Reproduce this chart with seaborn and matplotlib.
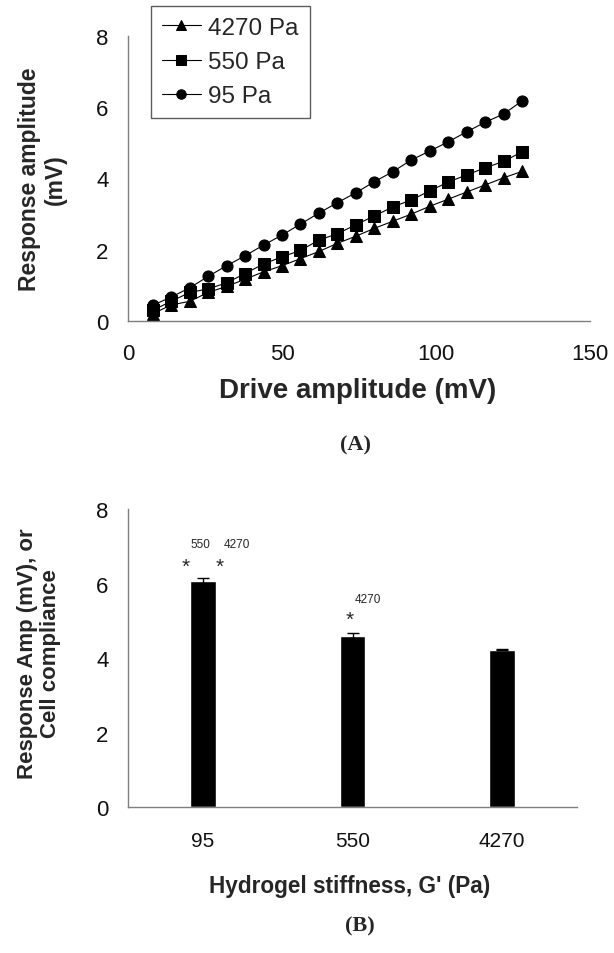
import numpy as np
import pandas as pd
import matplotlib
matplotlib.use("Agg")
import matplotlib.pyplot as plt
import seaborn as sns

# ---------------- data ----------------
drive_mv = [8, 14, 20, 26, 32, 38, 44, 50, 56, 62, 68, 74, 80, 86, 92, 98, 104, 110, 116, 122, 128]
resp_95 = [0.44, 0.67, 0.93, 1.25, 1.55, 1.83, 2.13, 2.41, 2.72, 3.03, 3.32, 3.60, 3.91, 4.19, 4.52,
           4.77, 5.03, 5.31, 5.58, 5.81, 6.18]
resp_550 = [0.30, 0.55, 0.80, 0.90, 1.07, 1.33, 1.60, 1.80, 1.98, 2.27, 2.45, 2.70, 2.95, 3.20, 3.40,
            3.65, 3.90, 4.10, 4.30, 4.48, 4.75]
resp_4270 = [0.20, 0.45, 0.55, 0.80, 0.97, 1.17, 1.38, 1.55, 1.75, 1.95, 2.18, 2.38, 2.60, 2.80, 3.00,
             3.22, 3.42, 3.62, 3.82, 4.02, 4.20]
series_labels = ["4270 Pa", "550 Pa", "95 Pa"]
series_markers = ["^", "s", "o"]

stiffness = ["95", "550", "4270"]
mean_amp = [6.07, 4.60, 4.22]
err_amp = [0.08, 0.08, 0.01]

# ---------------- style ----------------
sns.set_style("white")
plt.rcParams["font.family"] = ["Liberation Sans", "DejaVu Sans"]
GREY = "#7f7f7f"

fig = plt.figure(figsize=(6.14, 9.54), dpi=100)

# ---------------- panel A ----------------
ax1 = fig.add_axes([0.2085, 0.6625, 0.7524, 0.2988])
df = pd.DataFrame({
    "drive": drive_mv * 3,
    "resp": resp_4270 + resp_550 + resp_95,
    "series": [series_labels[0]] * len(drive_mv) + [series_labels[1]] * len(drive_mv)
              + [series_labels[2]] * len(drive_mv),
})
sns.lineplot(data=df, x="drive", y="resp", style="series", style_order=series_labels,
             markers=dict(zip(series_labels, series_markers)), dashes=False,
             color="black", linewidth=0.8, markersize=8, markeredgecolor="black",
             ax=ax1)
ax1.set_xlim(0, 150)
ax1.set_ylim(0, 8)
ax1.set_xticks([0, 50, 100, 150])
ax1.set_yticks([0, 2, 4, 6, 8])
for s in ["top", "right"]:
    ax1.spines[s].set_visible(False)
for s in ["left", "bottom"]:
    ax1.spines[s].set_color(GREY)
    ax1.spines[s].set_linewidth(1.0)
ax1.tick_params(axis="both", direction="out", length=5, width=1, color=GREY,
                labelsize=16, labelcolor="#111111")
ax1.tick_params(axis="x", pad=11)
ax1.tick_params(axis="y", pad=9)
ax1.set_xlabel("Drive amplitude (mV)", fontsize=20, fontweight="bold")
ax1.set_ylabel("Response amplitude\n(mV)", fontsize=16.5, fontweight="bold", linespacing=1.15)
ax1.xaxis.set_label_coords(0.498, -0.196)
ax1.yaxis.set_label_coords(-0.132, 0.5)
handles, labels = ax1.get_legend_handles_labels()
leg = ax1.legend(handles, labels, loc="upper left", bbox_to_anchor=(0.05, 1.105),
                 borderaxespad=0, fontsize=17.5, frameon=True, fancybox=False,
                 edgecolor="#333333", handlelength=1.6, handletextpad=0.3,
                 labelspacing=0.5, borderpad=0.45, markerscale=0.85)
leg.get_frame().set_linewidth(1.0)

fig.text(0.579, 0.5335, "(A)", fontsize=16, fontweight="bold",
         family=["Liberation Serif", "DejaVu Serif"], ha="center", va="center")

# ---------------- panel B ----------------
ax2 = fig.add_axes([0.2085, 0.153, 0.7313, 0.3124])
sns.barplot(x=stiffness, y=mean_amp, order=stiffness, color="black", saturation=1,
            width=0.17, errorbar=None, ax=ax2)
ax2.errorbar(range(len(stiffness)), mean_amp, yerr=err_amp, fmt="none",
             ecolor="black", elinewidth=1, capsize=4, capthick=1)
ax2.set_xlim(-0.5, 2.5)
ax2.set_ylim(0, 8)
ax2.set_yticks([0, 2, 4, 6, 8])
ax2.set_xticks([-0.5, 0.5, 1.5, 2.5], minor=True)
for s in ["top", "right"]:
    ax2.spines[s].set_visible(False)
for s in ["left", "bottom"]:
    ax2.spines[s].set_color(GREY)
    ax2.spines[s].set_linewidth(1.0)
ax2.tick_params(axis="x", which="major", length=0, pad=17, labelsize=15, labelcolor="#111111")
ax2.tick_params(axis="x", which="minor", length=6, width=1, color=GREY, direction="out")
ax2.tick_params(axis="y", direction="out", length=5, width=1, color=GREY, pad=9,
                labelsize=16, labelcolor="#111111")
ax2.set_xlabel("Hydrogel stiffness, G' (Pa)", fontsize=16.3, fontweight="bold")
ax2.set_ylabel("Response Amp (mV), or\nCell compliance", fontsize=16, fontweight="bold",
               linespacing=1.15)
ax2.xaxis.set_label_coords(0.494, -0.225)
ax2.yaxis.set_label_coords(-0.149, 0.517)

# significance annotations
ax2.text(-0.117, 6.32, "*", fontsize=15, ha="center", va="baseline")
ax2.text(0.11, 6.32, "*", fontsize=15, ha="center", va="baseline")
ax2.text(-0.017, 7.06, "550", fontsize=8.5, ha="center", va="center")
ax2.text(0.225, 7.06, "4270", fontsize=8.5, ha="center", va="center")
ax2.text(0.983, 4.88, "*", fontsize=15, ha="center", va="baseline")
ax2.text(1.10, 5.59, "4270", fontsize=8.5, ha="center", va="center")

fig.text(0.586, 0.029, "(B)", fontsize=16, fontweight="bold",
         family=["Liberation Serif", "DejaVu Serif"], ha="center", va="center")

fig.savefig("out.png", dpi=100)
